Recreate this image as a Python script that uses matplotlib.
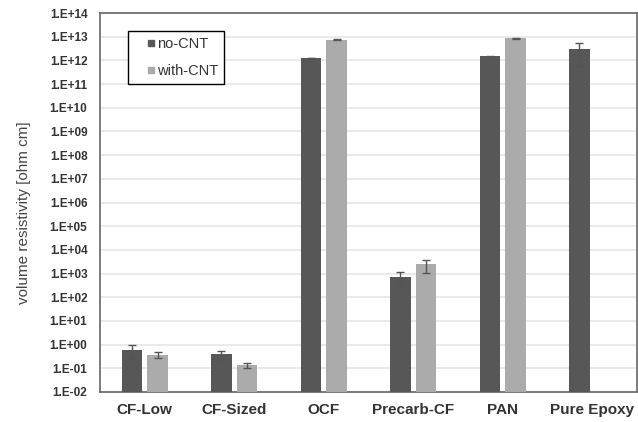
import numpy as np
import matplotlib.pyplot as plt
from matplotlib.lines import Line2D
from matplotlib.ticker import FixedLocator, FuncFormatter, NullLocator

plt.rcParams['font.family'] = ['Liberation Sans', 'DejaVu Sans']

categories = ['CF-Low', 'CF-Sized', 'OCF', 'Precarb-CF', 'PAN', 'Pure Epoxy']
no_cnt = [0.59, 0.39, 1.27e12, 740, 1.5e12, 3.1e12]
no_cnt_err = [0.35, 0.17, 0.05e12, 430, 0.05e12, 2.5e12]
with_cnt = [0.37, 0.134, 7.6e12, 2500, 8.7e12, np.nan]
with_cnt_err = [0.1, 0.035, 0.3e12, 1400, 0.4e12, np.nan]

dark = '#575757'
light = '#ababab'

fig = plt.figure(figsize=(6.38, 4.22), dpi=100)
ax = fig.add_axes([0.1567, 0.0711, 0.8417, 0.898])

x = np.arange(len(categories))
w = 0.23
off = 0.143
ekw = dict(ecolor='#555555', capsize=3, elinewidth=1, capthick=1)
ax.bar(x - off, no_cnt, w, color=dark, zorder=3, yerr=no_cnt_err, error_kw=ekw)
ax.bar(x + off, with_cnt, w, color=light, zorder=3, yerr=with_cnt_err, error_kw=ekw)

ax.set_yscale('log')
ax.set_ylim(1e-2, 1e14)
ax.set_xlim(-0.5, len(categories) - 0.5)
ax.yaxis.set_major_locator(FixedLocator([10.0 ** e for e in range(-2, 15)]))
ax.yaxis.set_minor_locator(NullLocator())
ax.yaxis.set_major_formatter(FuncFormatter(lambda v, p: '1.E%+03d' % int(round(np.log10(v)))))
ax.grid(axis='y', color='#e6e6e6', linewidth=1.2, zorder=0)
ax.tick_params(axis='y', length=0, labelsize=8.5, pad=9)
ax.tick_params(axis='x', length=0, labelsize=11, pad=8)
for t in ax.get_yticklabels():
    t.set_fontweight('bold')
    t.set_color('#333333')
ax.set_xticks(x)
ax.set_xticklabels(categories, fontweight='bold', color='#333333')
for s in ax.spines.values():
    s.set_color('#666666')
    s.set_linewidth(1.2)

ax.set_ylabel('volume resistivity [ohm cm]', fontsize=11, color='#444444')
ax.yaxis.set_label_coords(-0.128, 0.472)

# legend with small square markers
handles = [Line2D([], [], linestyle='none', marker='s', markersize=4.5, color=dark),
           Line2D([], [], linestyle='none', marker='s', markersize=4.5, color=light)]
leg = ax.legend(handles, ['no-CNT', 'with-CNT'], loc='upper left',
                bbox_to_anchor=(0.052, 0.9525), borderaxespad=0, fancybox=False,
                edgecolor='black', framealpha=1, fontsize=10.5, handlelength=2.4,
                handletextpad=-0.8, labelspacing=0.9, borderpad=0.4)
leg.get_frame().set_linewidth(1.0)
for t in leg.get_texts():
    t.set_color('#333333')

fig.savefig('out.png', dpi=100)
